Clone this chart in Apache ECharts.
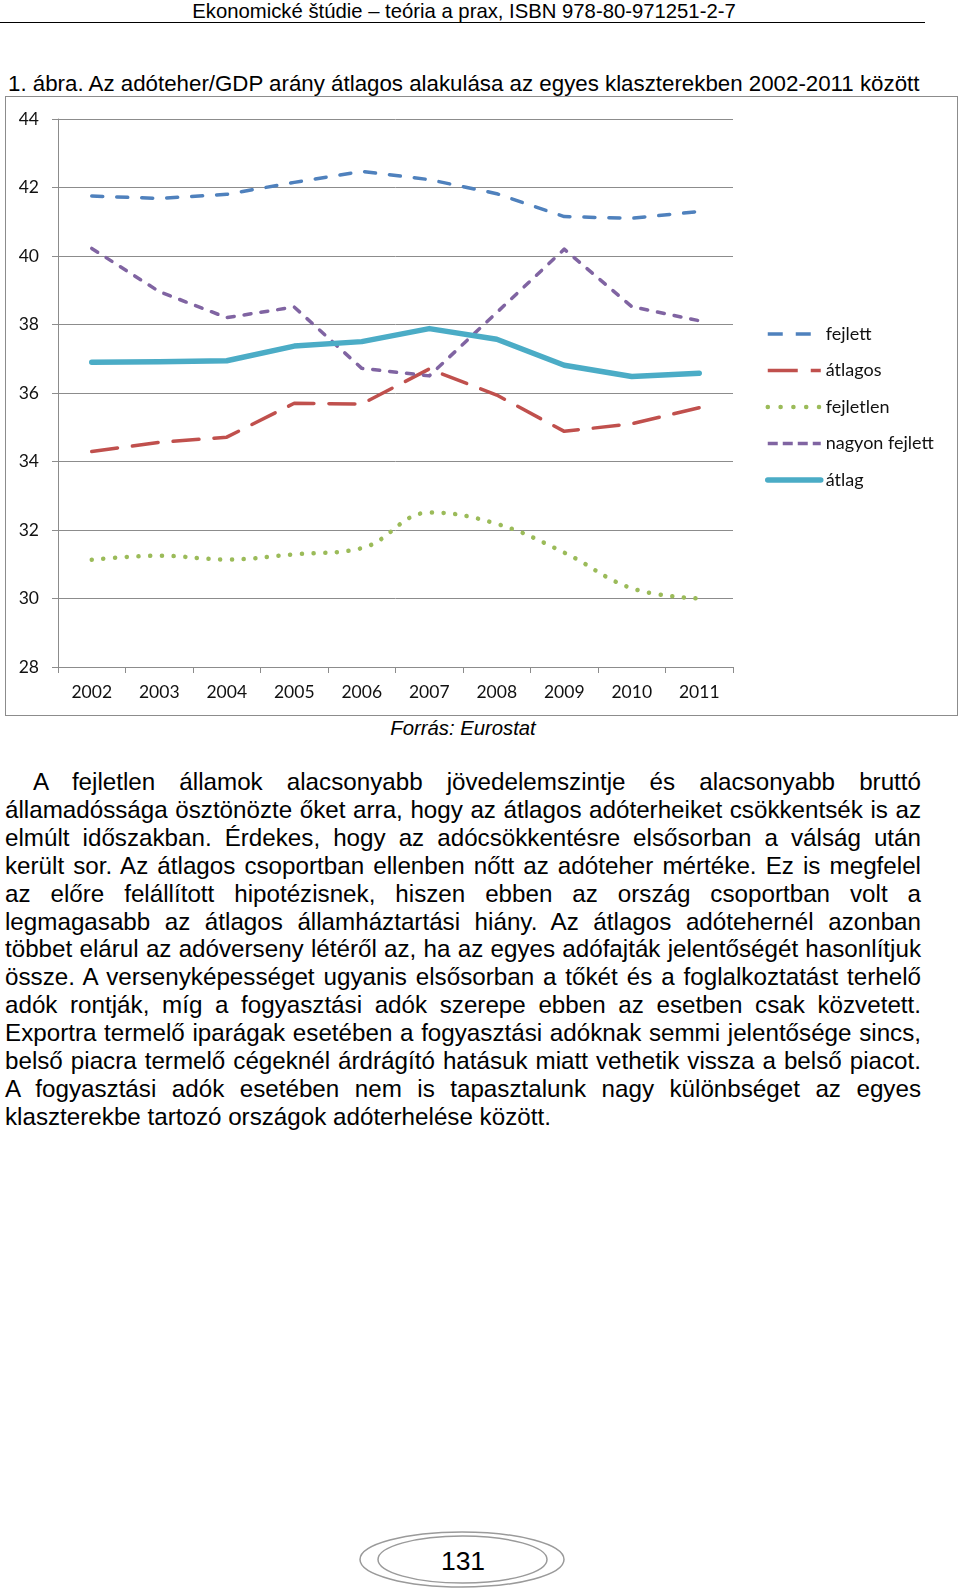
<!DOCTYPE html>
<html lang="hu">
<head>
<meta charset="utf-8">
<title>1. ábra – adóteher/GDP</title>
<script src="https://cdn.jsdelivr.net/npm/echarts@6.0.0/dist/echarts.min.js"></script>
<style>
  html, body { margin: 0; padding: 0; background: #fff; }
  body { width: 960px; height: 1590px; position: relative; overflow: hidden; font-family: "Liberation Sans", Arial, sans-serif; color: #000; }
  .abs { position: absolute; }
  #header { left: 0; width: 928px; top: 0px; text-align: center; font-family: "Liberation Sans Narrow", "Liberation Sans", sans-serif; font-size: 20.3px; line-height: 22px; }
  #rule { left: 0; top: 22px; width: 925px; height: 1px; background: #000; }
  #title { left: 8px; top: 70px; font-size: 22.3px; line-height: 28px; white-space: nowrap; }
  #chartBox { left: 5px; top: 96px; width: 953px; height: 620px; border: 1.5px solid #8c8c8c; box-sizing: border-box; }
  #source { left: 5px; width: 916px; top: 717px; text-align: center; font-style: italic; font-size: 20.3px; line-height: 22px; }
  #text { left: 5px; top: 768px; width: 916px; font-size: 24.2px; line-height: 27.9px; }
  #text div { white-space: nowrap; text-align: justify; text-align-last: justify; }
  #text div.first { padding-left: 28px; }
  #text div.last { text-align-last: left; }
  #pageNo { left: 350px; top: 1525px; }
</style>
</head>
<body>
<div id="header" class="abs">Ekonomické štúdie – teória a prax, ISBN 978-80-971251-2-7</div>
<div id="rule" class="abs"></div>
<div id="title" class="abs">1. ábra. Az adóteher/GDP arány átlagos alakulása az egyes klaszterekben 2002-2011 között</div>
<div id="chartBox" class="abs"></div>
<div id="source" class="abs">Forrás: Eurostat</div>
<div id="text" class="abs">
  <div class="first">A fejletlen államok alacsonyabb jövedelemszintje és alacsonyabb bruttó</div>
  <div>államadóssága ösztönözte őket arra, hogy az átlagos adóterheiket csökkentsék is az</div>
  <div>elmúlt időszakban. Érdekes, hogy az adócsökkentésre elsősorban a válság után</div>
  <div>került sor. Az átlagos csoportban ellenben nőtt az adóteher mértéke. Ez is megfelel</div>
  <div>az előre felállított hipotézisnek, hiszen ebben az ország csoportban volt a</div>
  <div>legmagasabb az átlagos államháztartási hiány. Az átlagos adótehernél azonban</div>
  <div>többet elárul az adóverseny létéről az, ha az egyes adófajták jelentőségét hasonlítjuk</div>
  <div>össze. A versenyképességet ugyanis elsősorban a tőkét és a foglalkoztatást terhelő</div>
  <div>adók rontják, míg a fogyasztási adók szerepe ebben az esetben csak közvetett.</div>
  <div>Exportra termelő iparágak esetében a fogyasztási adóknak semmi jelentősége sincs,</div>
  <div>belső piacra termelő cégeknél árdrágító hatásuk miatt vethetik vissza a belső piacot.</div>
  <div>A fogyasztási adók esetében nem is tapasztalunk nagy különbséget az egyes</div>
  <div class="last">klaszterekbe tartozó országok adóterhelése között.</div>
</div>
<svg id="pageNo" class="abs" width="230" height="70" viewBox="350 1525 230 70">
  <ellipse cx="462" cy="1559.5" rx="102" ry="27.5" fill="none" stroke="#9a9a9a" stroke-width="1.5"/>
  <ellipse cx="462.5" cy="1559.5" rx="84.5" ry="23.5" fill="none" stroke="#9a9a9a" stroke-width="1.5"/>
  <text x="463" y="1570" text-anchor="middle" font-family="Liberation Sans, Arial, sans-serif" font-size="26.5" fill="#000">131</text>
</svg>

<script>
// évek (x tengely)
const years = ["2002", "2003", "2004", "2005", "2006", "2007", "2008", "2009", "2010", "2011"];
// adóteher/GDP (%) klaszterenként
const fejlett = [41.75, 41.68, 41.8, 42.15, 42.47, 42.23, 41.82, 41.15, 41.1, 41.3];
const atlagos = [34.29, 34.56, 34.71, 35.7, 35.68, 36.7, 35.94, 34.88, 35.1, 35.57];
const fejletlen = [31.13, 31.25, 31.14, 31.29, 31.47, 32.51, 32.18, 31.34, 30.3, 30.0];
const nagyonFejlett = [40.22, 38.96, 38.2, 38.51, 36.72, 36.5, 38.35, 40.2, 38.52, 38.11];
const atlag = [36.9, 36.91, 36.94, 37.37, 37.5, 37.88, 37.57, 36.81, 36.48, 36.58];
// y tengely
const yMin = 28;
const yMax = 44;
const yStep = 2;

const gridColor = "#8c8c8c";
const labelFont = { fontFamily: "Lato, 'Open Sans', sans-serif", fontSize: 17.5, color: "#111" };

const lineSeries = (name, data, color, width, dash, smooth) => ({
    name: name,
    type: "line",
    data: data,
    symbol: "none",
    smooth: smooth || false,
    lineStyle: { color: color, width: width, type: dash, cap: "round", join: "round" },
    itemStyle: { color: color },
    z: 3,
});

const option = {
    animation: false,
    grid: { left: 52, top: 22, width: 675, height: 548, outerBoundsMode: "none", containLabel: false },
    xAxis: {
        type: "category",
        data: years,
        boundaryGap: true,
        axisLine: { lineStyle: { color: gridColor, width: 1 } },
        axisTick: { show: true, length: 6, lineStyle: { color: gridColor } },
        axisLabel: Object.assign({ interval: 0, margin: 16 }, labelFont),
        splitLine: { show: false },
    },
    yAxis: {
        type: "value",
        min: yMin,
        max: yMax,
        interval: yStep,
        axisLine: { show: true, lineStyle: { color: gridColor, width: 1 } },
        axisTick: { show: true, length: 6, lineStyle: { color: gridColor } },
        axisLabel: Object.assign({ margin: 19 }, labelFont),
        splitLine: { show: true, lineStyle: { color: gridColor, width: 1 } },
    },
    legend: {
        orient: "vertical",
        left: 759,
        top: 227,
        itemWidth: 53,
        itemHeight: 14,
        itemGap: 16.5,
        padding: 0,
        selectedMode: false,
        textStyle: { fontFamily: "Lato, 'Open Sans', sans-serif", fontSize: 18, color: "#111", lineHeight: 20 },
        // csak a vonal látszódjon, a kör jelölő ne
        itemStyle: { opacity: 0, color: "rgba(0,0,0,0)", borderWidth: 0 },
        data: [
            { name: "fejlett", lineStyle: { width: 3.5, type: [15, 13], cap: "butt" } },
            { name: "átlagos", lineStyle: { width: 3.5, type: [30, 13], cap: "butt" } },
            { name: "fejletlen", lineStyle: { width: 4.5, type: [0.1, 12.7], cap: "round" } },
            { name: "nagyon fejlett", lineStyle: { width: 3.5, type: [10, 5], cap: "butt" } },
            { name: "átlag", lineStyle: { width: 5.5, type: "solid", cap: "round" } },
        ],
    },
    series: [
        lineSeries("fejlett", fejlett, "#4f81bd", 3.5, [11, 14]),
        lineSeries("átlagos", atlagos, "#c0504d", 3.5, [26, 15]),
        lineSeries("fejletlen", fejletlen, "#9bbb59", 4.5, [0.1, 11.6], 0.4),
        lineSeries("nagyon fejlett", nagyonFejlett, "#8064a2", 3.5, [7, 10]),
        lineSeries("átlag", atlag, "#4bacc6", 5.5, "solid"),
    ],
};

const chart = echarts.init(document.getElementById("chartBox"), null, { renderer: "canvas" });
chart.setOption(option);
</script>
</body>
</html>
